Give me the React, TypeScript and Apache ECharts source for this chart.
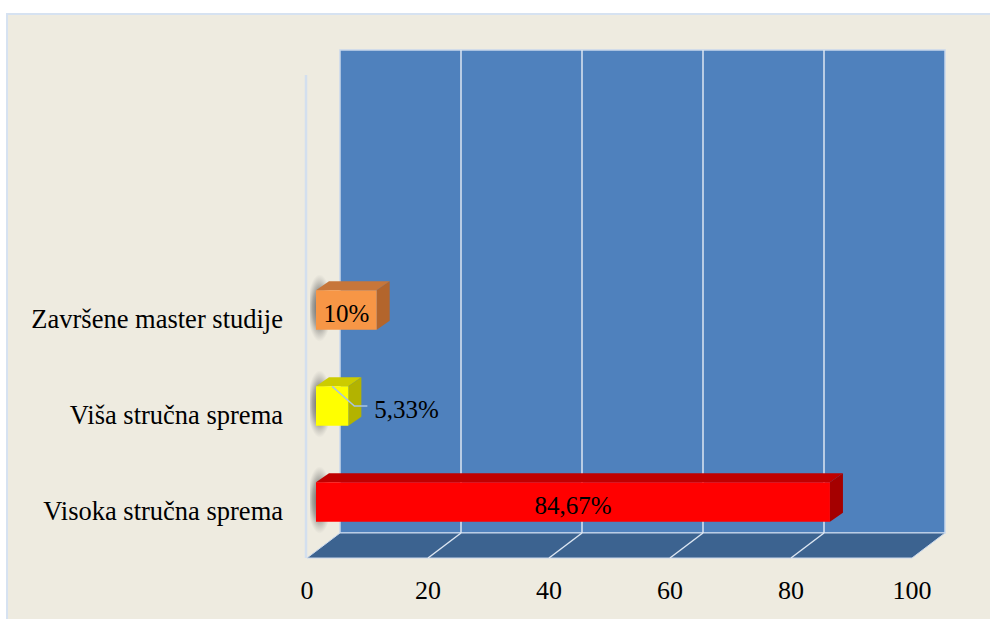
import React, { useEffect, useRef } from "react";
import * as echarts from "echarts";

const categories = ["Visoka stručna sprema", "Viša stručna sprema", "Završene master studije"];
const values = [84.67, 5.33, 10];
const barColors = [
  { front: "#FF0000", top: "#C00000", side: "#A50000" },
  { front: "#FFFF00", top: "#CCCC00", side: "#B3B300" },
  { front: "#F79646", top: "#C7763A", side: "#B3652C" },
];
const insideLabel = [true, false, true];
const axisTicks = [0, 20, 40, 60, 80, 100];

const FONT = "Liberation Serif";
const LABEL_SIZE = 25;
const AXIS_SIZE = 26;
const CAT_SIZE = 26.5;
const DEPTH_X = 33;
const DEPTH_Y = 25;
const BAR_DX = 13;
const BAR_DY = 9;

const fmt = (v: number) => String(v).replace(".", ",") + "%";

export default function App() {
  const ref = useRef<HTMLDivElement>(null);

  useEffect(() => {
    if (!ref.current) return;
    const chart = echarts.init(ref.current, undefined, { renderer: "svg" });

    const frameItem = (params: any, api: any) => {
      const [x0, yb] = api.coord([0, 0]);
      const [x1, yt] = api.coord([100, 1]);
      const backBottom = yb - DEPTH_Y;
      const children: any[] = [];
      // back wall
      children.push({
        type: "rect",
        shape: { x: x0 + DEPTH_X, y: yt, width: x1 - x0, height: backBottom - yt },
        style: { fill: "#4F81BD", stroke: "#C9D8EC", lineWidth: 1.5 },
      });
      // floor
      children.push({
        type: "polygon",
        shape: {
          points: [
            [x0, yb],
            [x1, yb],
            [x1 + DEPTH_X, backBottom],
            [x0 + DEPTH_X, backBottom],
          ],
        },
        style: { fill: "#3C6390", stroke: "#C9D8EC", lineWidth: 1 },
      });
      // grid lines on wall and floor
      axisTicks.forEach((t) => {
        const x = api.coord([t, 0])[0];
        if (t > 0 && t < 100) {
          children.push({
            type: "line",
            shape: { x1: x + DEPTH_X, y1: yt, x2: x + DEPTH_X, y2: backBottom },
            style: { stroke: "#DCE6F2", lineWidth: 1.5 },
          });
          children.push({
            type: "line",
            shape: { x1: x + DEPTH_X, y1: backBottom, x2: x, y2: yb },
            style: { stroke: "#DCE6F2", lineWidth: 1.5 },
          });
        }
      });
      // left wall edge
      children.push({
        type: "line",
        shape: { x1: x0 - 1, y1: yt + DEPTH_Y, x2: x0 - 1, y2: yb },
        style: { stroke: "#D3DFEE", lineWidth: 2.5 },
      });
      return { type: "group", children };
    };

    const barItem = (params: any, api: any) => {
      const i = params.dataIndex;
      const v = api.value(0);
      const cat = api.value(1);
      const [x0, yc] = api.coord([0, cat]);
      const x1 = api.coord([v, cat])[0];
      const band = api.size([0, 1])[1];
      const h = band * 0.41;
      const yt = yc - h / 2;
      const yb = yc + h / 2;
      const c = barColors[i];
      const children: any[] = [];
      // soft shadow at the bar's base on the left wall
      children.push({
        type: "rect",
        shape: { x: x0 - 6, y: yt - 16, width: 24, height: h + 28 },
        style: {
          fill: new echarts.graphic.RadialGradient(0.4, 0.5, 0.5, [
            { offset: 0, color: "rgba(60,60,60,0.85)" },
            { offset: 0.6, color: "rgba(80,80,80,0.45)" },
            { offset: 1, color: "rgba(120,120,120,0)" },
          ]),
        },
      });
      children.push({
        type: "polygon",
        shape: {
          points: [
            [x0, yt],
            [x1, yt],
            [x1 + BAR_DX, yt - BAR_DY],
            [x0 + BAR_DX, yt - BAR_DY],
          ],
        },
        style: { fill: c.top },
      });
      children.push({
        type: "polygon",
        shape: {
          points: [
            [x1, yt],
            [x1 + BAR_DX, yt - BAR_DY],
            [x1 + BAR_DX, yb - BAR_DY],
            [x1, yb],
          ],
        },
        style: { fill: c.side },
      });
      children.push({
        type: "rect",
        shape: { x: x0, y: yt, width: x1 - x0, height: h },
        style: { fill: c.front },
      });
      if (insideLabel[i]) {
        children.push({
          type: "text",
          style: {
            text: fmt(v),
            x: (x0 + x1) / 2,
            y: yc + 3,
            align: "center",
            verticalAlign: "middle",
            fontFamily: FONT,
            fontSize: LABEL_SIZE,
            fill: "#000000",
          },
        });
      } else {
        children.push({
          type: "polyline",
          shape: {
            points: [
              [(x0 + x1) / 2, yt],
              [x1 + 6, yc],
              [x1 + 19, yc],
            ],
          },
          style: { stroke: "#A9C4E2", lineWidth: 1.5, fill: "none" },
        });
        children.push({
          type: "text",
          style: {
            text: fmt(v),
            x: x1 + 26,
            y: yc + 3,
            align: "left",
            verticalAlign: "middle",
            fontFamily: FONT,
            fontSize: LABEL_SIZE,
            fill: "#000000",
          },
        });
      }
      return { type: "group", children };
    };

    chart.setOption({
      animation: false,
      backgroundColor: "#FFFFFF",
      graphic: [
        {
          type: "rect",
          z: -10,
          shape: { x: 7, y: 14, width: 1000, height: 620 },
          style: { fill: "#EEEBE0", stroke: "#D6E2F1", lineWidth: 2 },
        },
      ],
      grid: [
        { left: 307, right: 78, top: 50, bottom: 61 },
        { left: 316, right: 67, top: 262, bottom: 69 },
        { left: 316, right: 67, top: 271, bottom: 60 },
      ],
      xAxis: [
        {
          gridIndex: 0,
          type: "value",
          min: 0,
          max: 100,
          interval: 20,
          axisLine: { show: false },
          axisTick: { show: false },
          splitLine: { show: false },
          axisLabel: {
            margin: 19,
            fontSize: AXIS_SIZE,
            fontFamily: FONT,
            color: "#000000",
          },
        },
        { gridIndex: 1, type: "value", min: 0, max: 100, show: false },
        { gridIndex: 2, type: "value", min: 0, max: 100, show: false },
      ],
      yAxis: [
        { gridIndex: 0, type: "value", min: 0, max: 1, show: false },
        { gridIndex: 1, type: "category", data: categories, show: false },
        {
          gridIndex: 2,
          type: "category",
          data: categories,
          axisLine: { show: false },
          axisTick: { show: false },
          splitLine: { show: false },
          axisLabel: {
            margin: 33,
            fontSize: CAT_SIZE,
            fontFamily: FONT,
            color: "#000000",
          },
        },
      ],
      series: [
        {
          type: "custom",
          name: "frame",
          xAxisIndex: 0,
          yAxisIndex: 0,
          z: 1,
          silent: true,
          data: [[0, 0]],
          renderItem: frameItem,
        },
        {
          type: "custom",
          name: "values",
          xAxisIndex: 1,
          yAxisIndex: 1,
          z: 2,
          encode: { x: 0, y: 1 },
          data: values.map((v, i) => [v, i]),
          renderItem: barItem,
        },
      ],
    });

    return () => chart.dispose();
  }, []);

  return (
    <div
      ref={ref}
      style={{ position: "fixed", left: 0, top: 0, width: 990, height: 619 }}
    />
  );
}
